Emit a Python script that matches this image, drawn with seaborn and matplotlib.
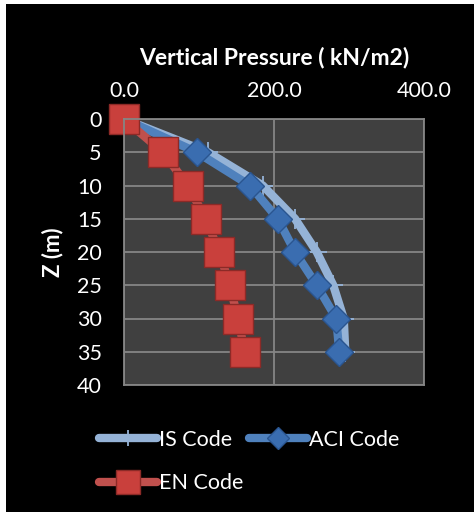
import matplotlib
matplotlib.use("Agg")
import matplotlib.pyplot as plt
import seaborn as sns
import pandas as pd
from matplotlib.patches import Rectangle

depth = [0, 5, 10, 15, 20, 25, 30, 35]
is_code = [0, 112, 185, 228, 257, 279, 293, 295]
aci_code = [0, 97, 168, 205, 228, 257, 283, 287]
en_code = [0, 52, 85, 109, 127, 141, 152, 161]

x_ticks = [0, 200, 400]
x_tick_labels = ["0.0", "200.0", "400.0"]
y_ticks = [0, 5, 10, 15, 20, 25, 30, 35, 40]

sns.set_theme(style="dark")
plt.rcParams['font.family'] = ['Lato', 'DejaVu Sans']

fig = plt.figure(figsize=(4.74, 5.12), dpi=100, facecolor="black")
# thin white margin at left and top, as in the reference image
fig.add_artist(Rectangle((0, 0), 6/474, 1, transform=fig.transFigure,
                         facecolor="white", edgecolor="none"))
fig.add_artist(Rectangle((0, 1 - 4/512), 1, 4/512, transform=fig.transFigure,
                         facecolor="white", edgecolor="none"))
ax = fig.add_axes([124/474, 1 - 385/512, 300/474, (385 - 119)/512])
ax.set_facecolor("#404040")

df_is = pd.DataFrame({"p": is_code, "z": depth})
df_aci = pd.DataFrame({"p": aci_code, "z": depth})
df_en = pd.DataFrame({"p": en_code, "z": depth})

sns.lineplot(data=df_is, x="p", y="z", sort=False, estimator=None, ax=ax,
             color="#95B3D7", linewidth=6, marker="+", markersize=15,
             markeredgewidth=1.3, markeredgecolor="#95B3D7",
             solid_capstyle="round", label="IS Code")
sns.lineplot(data=df_aci, x="p", y="z", sort=False, estimator=None, ax=ax,
             color="#4F81BD", linewidth=6, marker="D", markersize=14.5,
             markerfacecolor="#3A6DB0", markeredgecolor="#2A5590", markeredgewidth=1,
             solid_capstyle="round", label="ACI Code")
sns.lineplot(data=df_en, x="p", y="z", sort=False, estimator=None, ax=ax,
             color="#C0504D", linewidth=6, marker="s", markersize=21,
             markerfacecolor="#C9403C", markeredgecolor="#8C2A27", markeredgewidth=1,
             solid_capstyle="round", label="EN Code")

for line in ax.lines:
    line.set_clip_on(False)

ax.set_xlim(0, 400)
ax.set_ylim(40, 0)
ax.xaxis.tick_top()
ax.xaxis.set_label_position("top")
ax.set_xticks(x_ticks)
ax.set_xticklabels(x_tick_labels)
ax.set_yticks(y_ticks)
ax.set_yticklabels([str(v) for v in y_ticks])
ax.tick_params(axis="both", colors="white", labelsize=15.5, length=0)
ax.tick_params(axis="x", pad=13)
ax.tick_params(axis="y", pad=16)
ax.set_xlabel("Vertical Pressure ( kN/m2)", color="white", fontsize=16.5,
              fontweight="bold", labelpad=12)
ax.set_ylabel("Z (m)", color="white", fontsize=16, fontweight="bold", labelpad=10)

ax.grid(True, axis="both", color="#858585", linewidth=1.3)
ax.set_axisbelow(True)
for s in ax.spines.values():
    s.set_visible(True)
    s.set_color("#858585")
    s.set_linewidth(1.3)

handles, labels = ax.get_legend_handles_labels()
order = [0, 2, 1]  # column-major fill: IS, EN | ACI
leg = ax.legend([handles[i] for i in order], [labels[i] for i in order],
                loc="upper left", bbox_to_anchor=(90/474, 1 - 421/512),
                bbox_transform=fig.transFigure, ncol=2, frameon=False,
                fontsize=15.5, handlelength=2.7, handletextpad=0.1,
                columnspacing=0.25, labelspacing=1.1, borderaxespad=0,
                markerscale=0.8)
for t in leg.get_texts():
    t.set_color("white")

fig.savefig("out.png", dpi=100, facecolor=fig.get_facecolor())
